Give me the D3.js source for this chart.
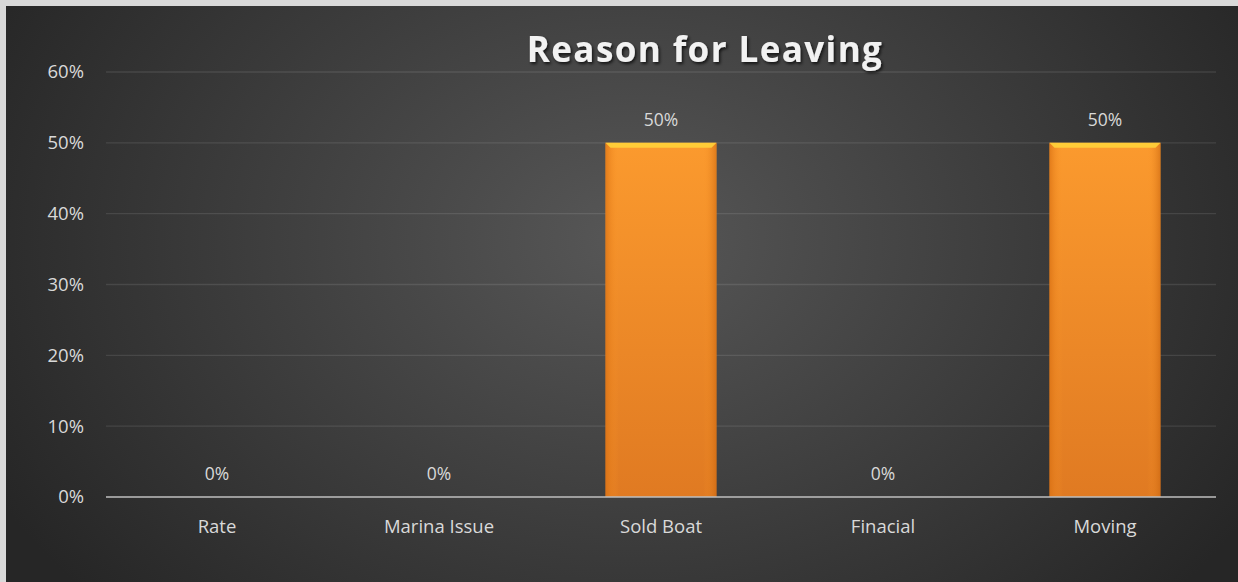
<!DOCTYPE html>
<html>
<head>
<meta charset="utf-8">
<script src="https://cdn.jsdelivr.net/npm/d3@7"></script>
<style>
  html, body { margin: 0; padding: 0; background: #d9d9d9; }
  svg { display: block; }
</style>
</head>
<body>
<svg id="chart" width="1238" height="582"></svg>
<script>
// Reason for Leaving — share of responses per category
const categories = ["Rate", "Marina Issue", "Sold Boat", "Finacial", "Moving"];
const values = [0, 0, 0.5, 0, 0.5];
const yTicks = [0, 0.1, 0.2, 0.3, 0.4, 0.5, 0.6];
const title = "Reason for Leaving";

const W = 1238, H = 582;
const svg = d3.select("#chart");
const defs = svg.append("defs");

// panel background: radial glow centred near the upper middle
const bg = defs.append("radialGradient").attr("id", "bg")
  .attr("gradientUnits", "userSpaceOnUse")
  .attr("cx", 630).attr("cy", 240).attr("r", 720)
  .attr("gradientTransform", "translate(630,240) scale(1,0.75) translate(-630,-240)");
bg.append("stop").attr("offset", "0%").attr("stop-color", "#575757");
bg.append("stop").attr("offset", "100%").attr("stop-color", "#262626");

// bar body
const barGrad = defs.append("linearGradient").attr("id", "barGrad")
  .attr("x1", 0).attr("y1", 0).attr("x2", 0).attr("y2", 1);
barGrad.append("stop").attr("offset", "0%").attr("stop-color", "#fb9a2e");
barGrad.append("stop").attr("offset", "100%").attr("stop-color", "#e07a22");

// soft vertical edges of the bar
const barSide = defs.append("linearGradient").attr("id", "barSide")
  .attr("x1", 0).attr("y1", 0).attr("x2", 1).attr("y2", 0);
barSide.append("stop").attr("offset", "0%").attr("stop-color", "#d86f12").attr("stop-opacity", 0.7);
barSide.append("stop").attr("offset", "12%").attr("stop-color", "#ff9a2a").attr("stop-opacity", 0);
barSide.append("stop").attr("offset", "88%").attr("stop-color", "#ff9a2a").attr("stop-opacity", 0);
barSide.append("stop").attr("offset", "100%").attr("stop-color", "#c9650f").attr("stop-opacity", 0.6);

// title drop shadow
const sh = defs.append("filter").attr("id", "tshadow")
  .attr("x", "-10%").attr("y", "-30%").attr("width", "120%").attr("height", "160%");
sh.append("feDropShadow").attr("dx", 1.5).attr("dy", 2).attr("stdDeviation", 1.6)
  .attr("flood-color", "#000").attr("flood-opacity", 0.7);

svg.append("rect").attr("x", 6).attr("y", 6).attr("width", W - 6).attr("height", H - 6)
  .attr("fill", "url(#bg)");

const margin = { left: 106, right: 22, top: 72, bottom: 85 };
const x = d3.scaleBand().domain(categories)
  .range([margin.left, W - margin.right]).paddingInner(0.5).paddingOuter(0.25);
const y = d3.scaleLinear().domain([0, 0.6]).range([H - margin.bottom, margin.top]);

const pct = d3.format(".0%");
const font = "'Open Sans', 'Noto Sans', sans-serif";

// horizontal gridlines
svg.append("g").selectAll("line").data(yTicks.filter(d => d > 0)).join("line")
  .attr("x1", margin.left).attr("x2", W - margin.right)
  .attr("y1", d => y(d)).attr("y2", d => y(d))
  .attr("stroke", "#ffffff").attr("stroke-opacity", 0.1).attr("stroke-width", 1.3);

// y axis labels
const yAxis = d3.axisLeft(y).tickValues(yTicks).tickFormat(pct).tickSize(0).tickPadding(22);
const gy = svg.append("g").attr("transform", `translate(${margin.left},0)`).call(yAxis);
gy.select(".domain").remove();
gy.selectAll("text").attr("fill", "#d9d9d9").style("font-family", font).style("font-size", "18.5px");

// bars
const bars = svg.append("g").selectAll("g").data(categories.map((c, i) => ({ c, v: values[i] })))
  .join("g");
bars.filter(d => d.v > 0).append("rect")
  .attr("x", d => x(d.c)).attr("width", x.bandwidth())
  .attr("y", d => y(d.v)).attr("height", d => y(0) - y(d.v))
  .attr("fill", "url(#barGrad)");
bars.filter(d => d.v > 0).append("rect")
  .attr("x", d => x(d.c)).attr("width", x.bandwidth())
  .attr("y", d => y(d.v)).attr("height", d => y(0) - y(d.v))
  .attr("fill", "url(#barSide)");
// bevelled highlight along the top edge
bars.filter(d => d.v > 0).append("path")
  .attr("d", d => {
    const x0 = x(d.c), x1 = x0 + x.bandwidth(), t = y(d.v);
    return `M${x0},${t}L${x1},${t}L${x1 - 5},${t + 5}L${x0 + 5},${t + 5}Z`;
  })
  .attr("fill", "#ffd23a").attr("opacity", 0.9);

// x axis baseline
svg.append("line")
  .attr("x1", margin.left).attr("x2", W - margin.right)
  .attr("y1", y(0)).attr("y2", y(0))
  .attr("stroke", "#bfbfbf").attr("stroke-width", 1.3);

// value labels
bars.append("text")
  .attr("x", d => x(d.c) + x.bandwidth() / 2)
  .attr("y", d => y(d.v) - 17)
  .attr("text-anchor", "middle")
  .attr("fill", "#d9d9d9").style("font-family", font).style("font-size", "17.5px")
  .text(d => pct(d.v));

// category labels
const xAxis = d3.axisBottom(x).tickSize(0).tickPadding(23);
const gx = svg.append("g").attr("transform", `translate(0,${y(0)})`).call(xAxis);
gx.select(".domain").remove();
gx.selectAll("text").attr("fill", "#d9d9d9").style("font-family", font).style("font-size", "18.5px");

// title
svg.append("text")
  .attr("x", 705).attr("y", 62)
  .attr("text-anchor", "middle")
  .attr("fill", "#f2f2f2")
  .attr("filter", "url(#tshadow)")
  .style("font-family", font).style("font-weight", 700).style("font-size", "35px")
  .style("letter-spacing", "1.4px")
  .text(title);
</script>
</body>
</html>
